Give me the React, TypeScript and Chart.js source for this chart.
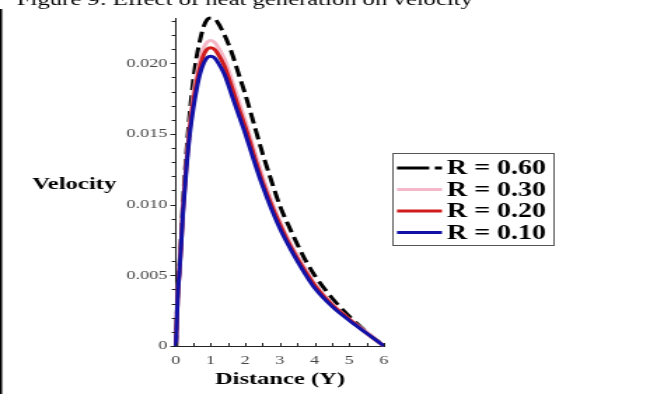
import React, { useEffect, useRef } from 'react';
import { Chart, registerables } from 'chart.js';

Chart.register(...registerables);

// Data
const distance = [0, 0.05, 0.1, 0.15, 0.2, 0.3, 0.4, 0.5, 0.6, 0.7, 0.8, 0.9, 1.0, 1.1, 1.2, 1.4, 1.6, 1.8, 2.0, 2.25, 2.5, 2.75, 3.0, 3.25, 3.5, 3.75, 4.0, 4.5, 5.0, 5.5, 6.0];
const velR060 = [0, 0.0037, 0.0056, 0.0077, 0.0100, 0.0136, 0.0165, 0.0188, 0.0205, 0.0217, 0.0226, 0.0231, 0.0232, 0.0232, 0.0229, 0.0220, 0.0208, 0.0193, 0.0178, 0.0157, 0.0136, 0.0117, 0.0099, 0.0085, 0.0072, 0.0060, 0.0050, 0.0034, 0.0021, 0.0010, 0];
const velR030 = [0, 0.0036, 0.0054, 0.0074, 0.0096, 0.0130, 0.0157, 0.0177, 0.0192, 0.0203, 0.0211, 0.0215, 0.0216, 0.0215, 0.0212, 0.0203, 0.0189, 0.0174, 0.0159, 0.0139, 0.0120, 0.0103, 0.0088, 0.0075, 0.0064, 0.0054, 0.0044, 0.0030, 0.0019, 0.0010, 0];
const velR020 = [0, 0.0035, 0.0053, 0.0073, 0.0095, 0.0128, 0.0154, 0.0173, 0.0187, 0.0198, 0.0206, 0.0210, 0.0211, 0.0210, 0.0207, 0.0198, 0.0184, 0.0169, 0.0155, 0.0135, 0.0116, 0.0100, 0.0086, 0.0073, 0.0062, 0.0052, 0.0043, 0.0029, 0.0019, 0.0009, 0];
const velR010 = [0, 0.0035, 0.0052, 0.0072, 0.0093, 0.0125, 0.0150, 0.0168, 0.0182, 0.0193, 0.0200, 0.0204, 0.0205, 0.0204, 0.0201, 0.0192, 0.0178, 0.0164, 0.0150, 0.0131, 0.0113, 0.0097, 0.0083, 0.0071, 0.0060, 0.0050, 0.0041, 0.0028, 0.0018, 0.0009, 0];

const seriesLabels = ['R = 0.60', 'R = 0.30', 'R = 0.20', 'R = 0.10'];
const seriesColors = ['#000000', '#f4b8c8', '#d01c1c', '#1212a8'];
const yTickValues = [0, 0.005, 0.01, 0.015, 0.02];
const xTickValues = [0, 1, 2, 3, 4, 5, 6];

const titleText = 'Figure 9: Effect of heat generation on velocity';
const yAxisTitle = 'Velocity';
const xAxisTitle = 'Distance (Y)';

// canvas is drawn narrower and stretched horizontally, like the reference
const INNER_W = 469;
const H = 394;
const SERIF = "'Liberation Serif', 'Times New Roman', serif";

const decorPlugin = {
  id: 'decor',
  afterDraw(chart: any) {
    const { ctx, chartArea, scales } = chart;
    const xs = scales.x;
    const ys = scales.y;
    ctx.save();
    // page border line on the left
    ctx.strokeStyle = '#000';
    ctx.lineWidth = 1.5;
    ctx.beginPath();
    ctx.moveTo(0.75, 9);
    ctx.lineTo(0.75, H);
    ctx.stroke();

    // caption
    ctx.fillStyle = '#000';
    ctx.font = `17.6px ${SERIF}`;
    ctx.textBaseline = 'alphabetic';
    ctx.textAlign = 'left';
    ctx.fillText(titleText, 12, 5);

    // y axis title (horizontal)
    ctx.font = `bold 17.6px ${SERIF}`;
    ctx.textBaseline = 'middle';
    ctx.textAlign = 'center';
    ctx.fillText(yAxisTitle, 53, 184);

    // minor/major tick marks
    ctx.strokeStyle = '#222';
    ctx.lineWidth = 1;
    for (let i = 0; i <= 23; i++) {
      const v = i * 0.001;
      const py = Math.round(ys.getPixelForValue(v)) + 0.5;
      const len = i % 5 === 0 ? 4 : 3;
      ctx.beginPath();
      ctx.moveTo(chartArea.left - len, py);
      ctx.lineTo(chartArea.left, py);
      ctx.stroke();
    }
    for (let i = 0; i <= 12; i++) {
      const v = i * 0.5;
      const px = Math.round(xs.getPixelForValue(v)) + 0.5;
      ctx.beginPath();
      ctx.moveTo(px, chartArea.bottom);
      ctx.lineTo(px, chartArea.bottom - 3);
      ctx.stroke();
    }

    // legend
    const bx = 279.6, by = 153, bw = 115, bh = 92;
    ctx.strokeStyle = '#555';
    ctx.lineWidth = 1;
    ctx.strokeRect(Math.round(bx) + 0.5, by + 0.5, bw, bh);
    const rows = [168, 189.5, 211, 232.5];
    chart.data.datasets.forEach((ds: any, i: number) => {
      const y = rows[i];
      ctx.strokeStyle = ds.borderColor;
      ctx.lineWidth = 3;
      ctx.setLineDash(i === 0 ? [23, 4] : []);
      ctx.beginPath();
      ctx.moveTo(283.4, y);
      ctx.lineTo(315.5, y);
      ctx.stroke();
      ctx.setLineDash([]);
      ctx.fillStyle = '#000';
      ctx.font = `bold 20px ${SERIF}`;
      ctx.textAlign = 'left';
      ctx.textBaseline = 'middle';
      ctx.fillText(ds.label, 319, y + 1);
    });
    ctx.restore();
  },
};

export default function App() {
  const canvasRef = useRef<HTMLCanvasElement | null>(null);

  useEffect(() => {
    if (!canvasRef.current) return;
    const series = [velR060, velR030, velR020, velR010];
    const datasets = series.map((vals, i) => ({
      label: seriesLabels[i],
      data: distance.map((d, j) => ({ x: d, y: vals[j] })),
      borderColor: seriesColors[i],
      backgroundColor: seriesColors[i],
      borderWidth: 3,
      borderDash: i === 0 ? [11, 5] : [],
      pointRadius: 0,
      cubicInterpolationMode: 'monotone' as const,
      fill: false,
      clip: false as any,
      order: 4 - i,
    }));

    const chart = new Chart(canvasRef.current, {
      type: 'line',
      data: { datasets },
      options: {
        responsive: false,
        animation: false,
        devicePixelRatio: 1,
        layout: { padding: { top: 18, right: INNER_W - 274.1, bottom: 0, left: 0 } },
        plugins: {
          legend: { display: false },
          tooltip: { enabled: false },
          title: { display: false },
        },
        scales: {
          x: {
            type: 'linear',
            min: 0,
            max: 6,
            afterFit: (s: any) => { s.height = 48; },
            afterBuildTicks: (s: any) => { s.ticks = xTickValues.map((v) => ({ value: v })); },
            grid: { display: false, drawTicks: false },
            border: { display: true, color: '#222', width: 1 },
            ticks: {
              padding: 7,
              color: '#444',
              font: { family: SERIF, size: 13 },
              maxRotation: 0,
              callback: (v: any) => String(v),
            },
            title: {
              display: true,
              text: xAxisTitle,
              color: '#000',
              font: { family: SERIF, size: 17.5, weight: 'bold' },
              padding: { top: 0, bottom: 4 },
            },
          },
          y: {
            type: 'linear',
            min: 0,
            max: 0.0232,
            afterFit: (s: any) => { s.width = 125.6; },
            afterBuildTicks: (s: any) => { s.ticks = yTickValues.map((v) => ({ value: v })); },
            grid: { display: false, drawTicks: false },
            border: { display: true, color: '#222', width: 1 },
            ticks: {
              padding: 6,
              color: '#444',
              font: { family: SERIF, size: 13 },
              callback: (v: any) => (Number(v) === 0 ? '0' : Number(v).toFixed(3)),
            },
          },
        },
      },
      plugins: [decorPlugin],
    });
    return () => chart.destroy();
  }, []);

  return (
    <div style={{ position: 'absolute', left: 0, top: 0, width: 657, height: H, background: '#fff', overflow: 'hidden' }}>
      <canvas
        ref={canvasRef}
        width={INNER_W}
        height={H}
        style={{ width: '657px', height: `${H}px`, display: 'block' }}
      />
    </div>
  );
}
